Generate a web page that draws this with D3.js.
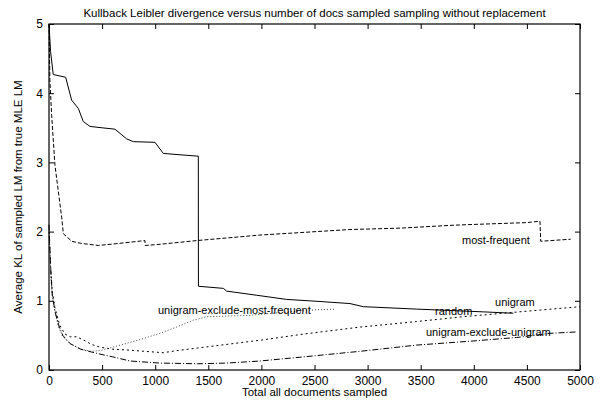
<!DOCTYPE html>
<html>
<head>
<meta charset="utf-8">
<script src="https://cdn.jsdelivr.net/npm/d3@7"></script>
<style>
  body { margin: 0; background: #fff; }
  text { font-family: "Liberation Sans", Arial, sans-serif; fill: #000; }
</style>
</head>
<body>
<div id="chart"></div>
<script>
// values: [docs sampled, average KL]
var unigram = [[0,5],[15,4.6],[40,4.27],[157,4.23],[213,3.9],[276,3.78],[323,3.59],[386,3.52],[500,3.5],[621,3.48],[731,3.34],[794,3.3],[998,3.29],[1076,3.13],[1233,3.11],[1406,3.09],[1407,1.21],[1641,1.18],[1673,1.14],[1956,1.08],[2238,1.02],[2552,0.99],[2834,0.96],[2960,0.915],[3462,0.88],[4090,0.84],[4372,0.82]];
var mostFrequent = [[0,5],[8,4.2],[25,3.68],[56,2.96],[88,2.58],[120,2.2],[135,1.97],[214,1.86],[300,1.83],[464,1.8],[600,1.82],[904,1.87],[905,1.8],[1000,1.81],[1390,1.87],[1987,1.95],[2834,2.03],[3305,2.05],[3776,2.09],[3933,2.1],[4498,2.13],[4623,2.15],[4630,1.86],[4912,1.89]];
var random = [[0,2],[15,1.5],[30,1.15],[56,0.9],[100,0.65],[150,0.52],[200,0.48],[260,0.48],[330,0.43],[400,0.37],[480,0.33],[600,0.3],[731,0.29],[900,0.27],[1076,0.25],[1202,0.28],[1516,0.34],[1987,0.43],[2400,0.52],[2928,0.62],[3462,0.7],[3900,0.77],[4500,0.85],[5000,0.915]];
var exclMostFrequent = [[0,2],[15,1.4],[30,1.05],[56,0.85],[90,0.62],[130,0.48],[200,0.38],[300,0.3],[400,0.27],[480,0.28],[600,0.33],[731,0.385],[900,0.46],[1045,0.53],[1200,0.62],[1359,0.72],[1485,0.77],[1893,0.79],[2100,0.82],[2520,0.87],[2700,0.88]];
var exclUnigram = [[0,2.1],[15,1.5],[30,1.1],[56,0.85],[90,0.65],[130,0.5],[200,0.38],[300,0.3],[400,0.26],[480,0.23],[600,0.19],[763,0.13],[1045,0.1],[1400,0.09],[1673,0.1],[1987,0.13],[2400,0.19],[2928,0.27],[3462,0.36],[4000,0.42],[4404,0.47],[4717,0.53],[4969,0.55]];

var xTicks = [0,500,1000,1500,2000,2500,3000,3500,4000,4500,5000];
var yTicks = [0,1,2,3,4,5];

var labels = [
  {text: "unigram", x: 4200, y: 0.98},
  {text: "most-frequent", x: 3889, y: 1.88},
  {text: "random", x: 3635, y: 0.85},
  {text: "unigram-exclude-unigram", x: 3550, y: 0.55},
  {text: "unigram-exclude-most-frequent", x: 1026, y: 0.87}
];

var series = [
  {data: unigram, dash: null, color: "#000"},
  {data: mostFrequent, dash: "4,2", color: "#000"},
  {data: random, dash: "2,3", color: "#000"},
  {data: exclMostFrequent, dash: "1,2", color: "#444"},
  {data: exclUnigram, dash: "6,2,1,2", color: "#000"}
];

var svgWidth = 602, svgHeight = 403;
var margin = {top: 24, right: 22, bottom: 33, left: 49};
var width = svgWidth - margin.left - margin.right;
var height = svgHeight - margin.top - margin.bottom;

var svg = d3.select("#chart").append("svg")
  .attr("width", svgWidth)
  .attr("height", svgHeight);

var chartGroup = svg.append("g")
  .attr("transform", `translate(${margin.left}, ${margin.top})`);

var xScale = d3.scaleLinear().domain([0, 5000]).range([0, width]);
var yScale = d3.scaleLinear().domain([0, 5]).range([height, 0]);

// axes with inward ticks, mirrored on top and right
var xAxisBottom = chartGroup.append("g")
  .attr("transform", `translate(0, ${height})`)
  .call(d3.axisBottom(xScale).tickValues(xTicks).tickFormat(d3.format("d"))
    .tickSizeInner(-5).tickSizeOuter(0).tickPadding(6));
var yAxisLeft = chartGroup.append("g")
  .call(d3.axisLeft(yScale).tickValues(yTicks).tickFormat(d3.format("d"))
    .tickSizeInner(-5).tickSizeOuter(0).tickPadding(6));
var xAxisTop = chartGroup.append("g")
  .call(d3.axisTop(xScale).tickValues(xTicks).tickSizeInner(-5).tickSizeOuter(0).tickFormat(""));
var yAxisRight = chartGroup.append("g")
  .attr("transform", `translate(${width}, 0)`)
  .call(d3.axisRight(yScale).tickValues(yTicks).tickSizeInner(-5).tickSizeOuter(0).tickFormat(""));

[xAxisBottom, yAxisLeft, xAxisTop, yAxisRight].forEach(function(g) {
  g.select(".domain").remove();
  g.selectAll("line").attr("stroke", "#000");
  g.selectAll("text")
    .style("font-size", "12px")
    .style("font-family", "Liberation Sans, Arial, sans-serif");
});

chartGroup.append("rect")
  .attr("width", width)
  .attr("height", height)
  .attr("fill", "none")
  .attr("stroke", "#000")
  .attr("stroke-width", 1.2);

var line = d3.line()
  .x(d => xScale(d[0]))
  .y(d => yScale(d[1]));

chartGroup.selectAll(".series")
  .data(series)
  .enter()
  .append("path")
  .attr("class", "series")
  .attr("d", d => line(d.data))
  .attr("fill", "none")
  .attr("stroke", d => d.color)
  .attr("stroke-width", 1)
  .attr("stroke-dasharray", d => d.dash);

chartGroup.selectAll(".label")
  .data(labels)
  .enter()
  .append("text")
  .attr("class", "label")
  .attr("x", d => xScale(d.x))
  .attr("y", d => yScale(d.y))
  .attr("dy", "0.35em")
  .style("font-size", "11px")
  .text(d => d.text);

svg.append("text")
  .attr("x", margin.left + width / 2)
  .attr("y", 17)
  .attr("text-anchor", "middle")
  .style("font-size", "11.5px")
  .text("Kullback Leibler divergence versus number of docs sampled sampling without replacement");

svg.append("text")
  .attr("x", margin.left + width / 2)
  .attr("y", 396)
  .attr("text-anchor", "middle")
  .style("font-size", "11.5px")
  .text("Total all documents sampled");

svg.append("text")
  .attr("transform", `translate(22, ${margin.top + height / 2}) rotate(-90)`)
  .attr("text-anchor", "middle")
  .style("font-size", "11.5px")
  .text("Average KL of sampled LM from true MLE LM");
</script>
</body>
</html>
